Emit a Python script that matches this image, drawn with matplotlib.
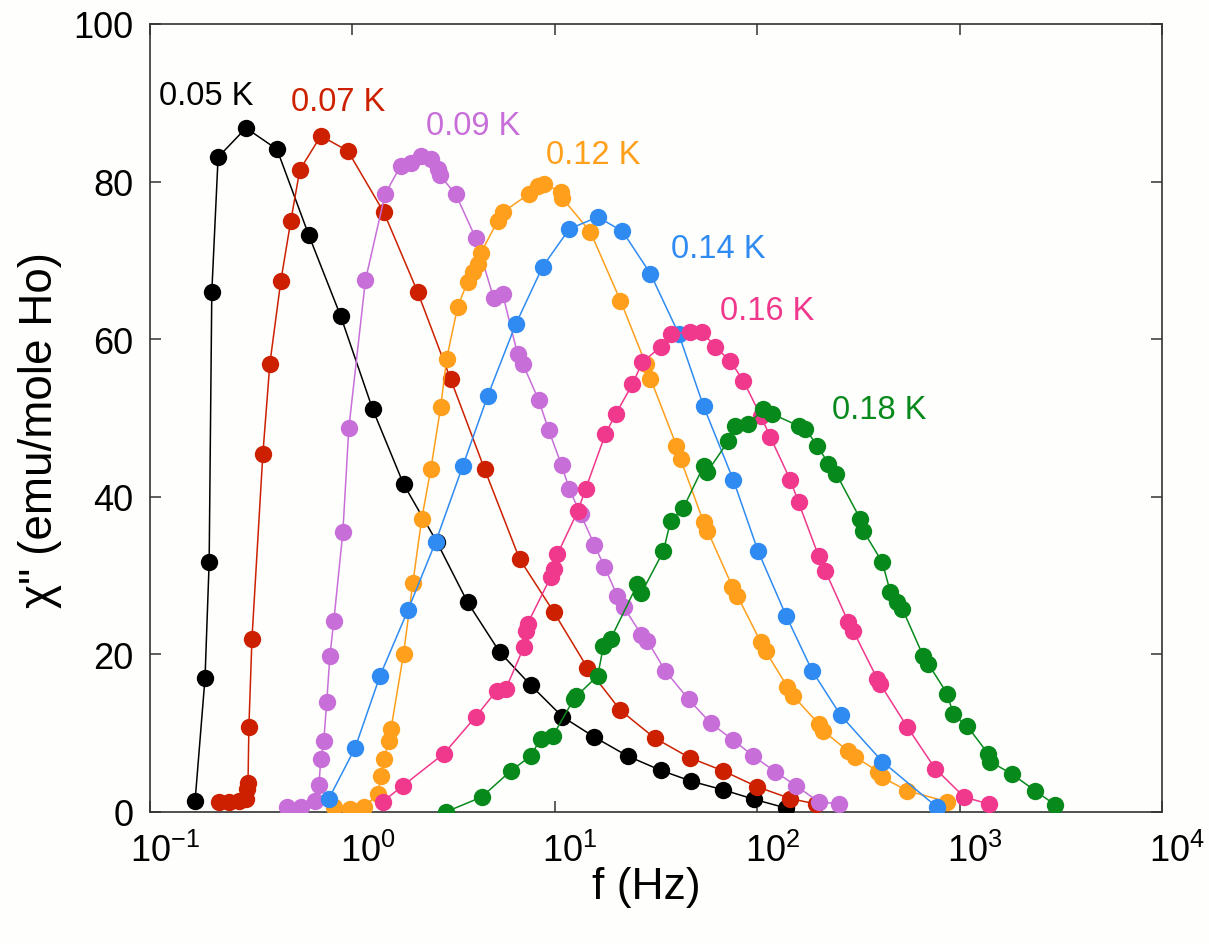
import matplotlib
matplotlib.use("Agg")
import matplotlib.pyplot as plt
import matplotlib.transforms as mtransforms
from matplotlib.ticker import FixedLocator, NullLocator

plt.rcParams['font.family'] = ['Liberation Sans', 'DejaVu Sans']
plt.rcParams['mathtext.fontset'] = 'custom'
plt.rcParams['mathtext.rm'] = 'Liberation Sans'
plt.rcParams['mathtext.it'] = 'Liberation Sans'

# Imaginary susceptibility chi'' vs. frequency at several temperatures
f_005 = [0.167, 0.187, 0.196, 0.202, 0.217, 0.298, 0.424, 0.609, 0.876, 1.26, 1.79, 2.61,
         3.71, 5.34, 7.60, 10.9, 15.7, 22.9, 33.3, 47.3, 68.1, 96.9, 139]
chi_005 = [1.4, 17.0, 31.7, 66.0, 83.1, 86.8, 84.1, 73.2, 62.9, 51.1, 41.6, 34.3,
           26.6, 20.3, 16.1, 12.1, 9.5, 7.1, 5.3, 3.9, 2.8, 1.6, 0.5]

f_007 = [0.219, 0.245, 0.275, 0.298, 0.301, 0.305, 0.308, 0.319, 0.361, 0.391, 0.443, 0.496,
         0.550, 0.698, 0.949, 1.43, 2.10, 3.06, 4.50, 6.70, 9.87, 14.5, 21.1, 31.1, 46.3,
         68.1, 100, 146, 196]
chi_007 = [1.3, 1.3, 1.4, 1.7, 2.9, 3.7, 10.8, 22.0, 45.4, 56.9, 67.4, 75.0,
           81.5, 85.8, 83.9, 76.1, 66.0, 54.9, 43.5, 32.1, 25.4, 18.3, 12.9, 9.4, 6.9,
           5.2, 3.2, 1.7, 1.0]

f_009 = [0.475, 0.556, 0.652, 0.683, 0.698, 0.722, 0.747, 0.774, 0.809, 0.897, 0.960, 1.16,
         1.45, 1.73, 1.94, 2.18, 2.44, 2.64, 2.70, 3.24, 4.07, 4.99, 5.53, 6.55, 6.94,
         8.32, 9.32, 10.8, 11.8, 13.4, 15.7, 17.6, 20.4, 21.9, 26.8, 28.7, 35.2, 45.8,
         58.8, 76.3, 95.8, 123, 156, 201, 255]
chi_009 = [0.6, 0.6, 1.4, 3.4, 6.7, 9.0, 14.0, 19.8, 24.2, 35.5, 48.7, 67.5,
           78.4, 82.0, 82.4, 83.3, 82.9, 81.6, 80.8, 78.4, 72.8, 65.2, 65.7, 58.1, 56.9,
           52.3, 48.5, 44.0, 41.0, 37.8, 33.9, 31.1, 27.4, 26.0, 22.5, 21.7, 17.9, 14.3,
           11.3, 9.1, 7.1, 5.1, 3.3, 1.3, 1.0]

f_012 = [0.809, 0.971, 1.14, 1.34, 1.38, 1.43, 1.51, 1.55, 1.79, 1.99, 2.20, 2.44,
         2.73, 2.92, 3.31, 3.71, 3.93, 4.16, 4.30, 5.22, 5.53, 7.42, 8.23, 8.81, 10.7,
         10.9, 15.0, 21.1, 28.1, 29.7, 39.9, 41.8, 54.3, 56.8, 75.4, 79.9, 104, 110,
         141, 151, 201, 212, 282, 305, 397, 415, 551, 869]
chi_012 = [0.6, 0.4, 0.6, 2.3, 4.6, 6.7, 9.0, 10.5, 20.1, 29.1, 37.2, 43.5,
           51.4, 57.5, 64.1, 67.3, 68.5, 69.5, 70.9, 75.0, 76.1, 78.4, 79.4, 79.7, 78.7,
           77.9, 73.6, 64.9, 56.9, 55.0, 46.5, 44.8, 36.8, 35.7, 28.6, 27.4, 21.6, 20.4,
           15.9, 14.7, 11.2, 10.3, 7.7, 7.0, 5.1, 4.4, 2.7, 1.3]

f_014 = [0.765, 1.03, 1.37, 1.88, 2.58, 3.51, 4.66, 6.41, 8.71, 11.8, 16.3, 21.6,
         29.7, 40.9, 54.3, 76.3, 101, 139, 187, 258, 415, 775]
chi_014 = [1.7, 8.1, 17.3, 25.6, 34.3, 43.9, 52.8, 61.9, 69.2, 74.0, 75.5, 73.7,
           68.3, 60.7, 51.5, 42.1, 33.1, 24.9, 17.9, 12.3, 6.4, 0.6]

f_016 = [1.41, 1.77, 2.83, 4.07, 5.16, 5.72, 7.02, 7.18, 7.34, 9.54, 9.87, 10.3,
         13.0, 14.2, 17.8, 20.0, 24.2, 27.1, 33.3, 37.3, 46.8, 53.6, 62.2, 73.8, 85.5,
         104, 116, 146, 160, 201, 217, 282, 298, 392, 406, 551, 758, 1054, 1400]
chi_016 = [1.3, 3.3, 7.4, 12.1, 15.4, 15.6, 20.9, 23.0, 23.9, 29.8, 30.8, 32.7,
           38.2, 41.0, 48.0, 50.5, 54.3, 57.1, 59.0, 60.7, 60.9, 60.9, 59.0, 57.2, 54.7,
           50.3, 47.6, 42.1, 39.3, 32.5, 30.6, 24.1, 23.0, 16.9, 16.2, 10.8, 5.5, 1.9, 1.0]

f_018 = [2.89, 4.35, 6.05, 7.60, 8.51, 9.75, 12.4, 12.8, 16.3, 17.4, 18.9, 25.6,
         26.8, 34.4, 37.3, 43.2, 54.3, 56.8, 72.1, 78.0, 90.5, 107, 119, 160, 173,
         198, 225, 246, 323, 334, 415, 455, 492, 521, 661, 700, 869, 930, 1090, 1384,
         1416, 1818, 2361, 2966]
chi_018 = [0.0, 1.9, 5.2, 7.1, 9.3, 9.6, 14.3, 14.7, 17.3, 21.1, 22.0, 28.9,
           27.8, 33.1, 36.9, 38.6, 43.9, 43.2, 47.1, 49.0, 49.2, 51.1, 50.5, 49.0, 48.6,
           46.5, 44.2, 42.9, 37.2, 35.7, 31.7, 27.9, 26.7, 25.8, 19.8, 18.8, 15.0, 12.4,
           10.9, 7.4, 6.4, 4.8, 2.7, 0.9]

temps = ["0.05 K", "0.07 K", "0.09 K", "0.12 K", "0.14 K", "0.16 K", "0.18 K"]
colors = ["#000000", "#cc2000", "#c76ed8", "#ff9f1c", "#2f8bf2", "#f0388c", "#08891c"]
series_f = [f_005, f_007, f_009, f_012, f_014, f_016, f_018]
series_chi = [chi_005, chi_007, chi_009, chi_012, chi_014, chi_016, chi_018]
# where each temperature tag sits (frequency, chi'')
label_f = [0.111, 0.497, 2.30, 9.01, 37.3, 65.8, 235]
label_chi = [90.9, 90.2, 87.1, 83.4, 71.5, 63.6, 51.1]

x_ticks = [0.1, 1, 10, 100, 1000, 10000]
x_ticklabels = [r"$\mathregular{10^{-1}}$", r"$\mathregular{10^{0}}$",
                r"$\mathregular{10^{1}}$", r"$\mathregular{10^{2}}$",
                r"$\mathregular{10^{3}}$", r"$\mathregular{10^{4}}$"]
y_ticks = [0, 20, 40, 60, 80, 100]

fig = plt.figure(figsize=(12.09, 9.45), dpi=100)
fig.patch.set_facecolor("#fefefc")
ax = fig.add_axes([150 / 1209, 132 / 945, 1012 / 1209, 788 / 945])
ax.set_facecolor("#fefefc")

for fx, cy, col in zip(series_f, series_chi, colors):
    ax.plot(fx, cy, "-", color=col, lw=1.1, marker="o", ms=12.5,
            markeredgewidth=0, zorder=3)

for t, lx, ly, col in zip(temps, label_f, label_chi, colors):
    ax.text(lx, ly, t, color=col, fontsize=23.5, ha="left", va="center")

ax.set_xscale("log")
ax.set_xlim(0.1, 1e4)
ax.set_ylim(0, 100)
ax.xaxis.set_major_locator(FixedLocator(x_ticks))
ax.xaxis.set_minor_locator(NullLocator())
ax.set_xticklabels(x_ticklabels)
ax.set_yticks(y_ticks)

ax.tick_params(axis="both", which="major", direction="in", length=8, width=1.1,
               top=True, right=True, labelsize=26, color="#333333")
ax.tick_params(axis="x", pad=15)
ax.tick_params(axis="y", pad=12)
for sp in ax.spines.values():
    sp.set_linewidth(1.2)
    sp.set_color("#333333")

# keep the mantissa "10" centred on its tick, exponent hanging to the right
shift = mtransforms.ScaledTranslation(0.15, 0, fig.dpi_scale_trans)
for lab in ax.get_xticklabels():
    lab.set_transform(lab.get_transform() + shift)

ax.set_xlabel("f (Hz)", fontsize=32)
ax.xaxis.set_label_coords(0.49, -0.068)
ax.set_ylabel('χ" (emu/mole Ho)', fontsize=33)
ax.yaxis.set_label_coords(-0.087, 0.486)

fig.savefig("out.png", dpi=100, facecolor=fig.get_facecolor())
